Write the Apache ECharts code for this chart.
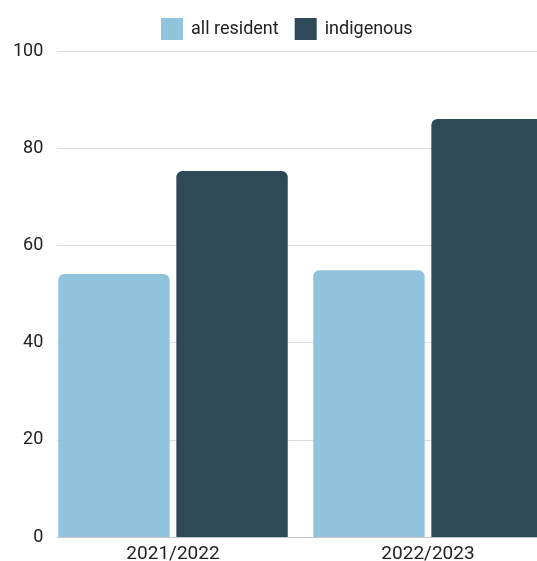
<!DOCTYPE html>
<html>
<head>
<meta charset="utf-8">
<script src="https://cdn.jsdelivr.net/npm/echarts@6/dist/echarts.min.js"></script>
<style>
  html, body { margin: 0; padding: 0; background: #fff; overflow: hidden; }
  #chart { width: 537px; height: 561px; }
</style>
</head>
<body>
<div id="chart"></div>
<script>
// School years on the category axis
const years = ['2021/2022', '2022/2023'];
// Share of students (%) per group
const allResident = [54.1, 54.9];
const indigenous = [75.3, 86.0];
// Value axis ticks
const yTicks = [0, 20, 40, 60, 80, 100];

const font = 'Roboto';
const textColor = '#222';

const chart = echarts.init(document.getElementById('chart'));
chart.setOption({
  animation: false,
  legend: {
    top: 13,
    left: 156,
    itemWidth: 22,
    itemHeight: 22,
    itemGap: 16,
    icon: 'rect',
    textStyle: { fontFamily: font, fontSize: 18, color: textColor, padding: [0, 0, 0, 3] },
    data: ['all resident', 'indigenous']
  },
  grid: [
    // bars (plot runs past the right edge of the canvas)
    { left: 45.5, width: 510, top: 51, bottom: 24, containLabel: false, outerBoundsMode: 'none' },
    // gridlines and value labels
    { left: 57.3, width: 498, top: 51, bottom: 24, containLabel: false, outerBoundsMode: 'none' }
  ],
  xAxis: [
    {
      type: 'category', gridIndex: 0, data: years,
      axisLine: { show: false }, axisTick: { show: false },
      axisLabel: { fontFamily: font, fontSize: 19, color: textColor, margin: 8 }
    },
    {
      type: 'category', gridIndex: 1, data: years,
      axisLine: { show: true, lineStyle: { color: '#c8c8c8', width: 1 } },
      axisTick: { show: false }, axisLabel: { show: false }
    }
  ],
  yAxis: [
    {
      type: 'value', gridIndex: 0, min: yTicks[0], max: yTicks[yTicks.length - 1], interval: 20,
      axisLabel: { show: false }, splitLine: { show: false },
      axisLine: { show: false }, axisTick: { show: false }
    },
    {
      type: 'value', gridIndex: 1, min: yTicks[0], max: yTicks[yTicks.length - 1], interval: 20,
      axisLabel: { fontFamily: font, fontSize: 18, color: textColor, margin: 14 },
      splitLine: { show: true, lineStyle: { color: '#dedede', width: 1 } },
      axisLine: { show: false }, axisTick: { show: false }
    }
  ],
  series: [
    {
      name: 'all resident', type: 'bar', xAxisIndex: 0, yAxisIndex: 0,
      data: allResident,
      barCategoryGap: '10%', barGap: '6%',
      itemStyle: { color: '#90c3dc', borderRadius: [6, 6, 0, 0] }
    },
    {
      name: 'indigenous', type: 'bar', xAxisIndex: 0, yAxisIndex: 0,
      data: indigenous,
      barCategoryGap: '10%', barGap: '6%',
      itemStyle: { color: '#2e4a59', borderRadius: [6, 6, 0, 0] }
    }
  ]
});
</script>
</body>
</html>
